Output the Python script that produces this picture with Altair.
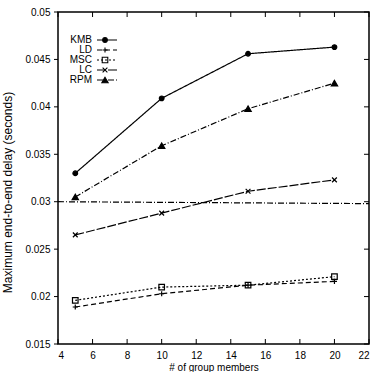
import altair as alt
import pandas as pd

# Group sizes and maximum end-to-end delay (seconds) for each algorithm
members = [5, 10, 15, 20]
kmb = [0.0330, 0.0409, 0.0456, 0.0463]
ld = [0.0189, 0.0203, 0.0212, 0.0216]
msc = [0.0196, 0.0210, 0.0212, 0.0221]
lc = [0.0265, 0.0288, 0.0311, 0.0323]
rpm = [0.0305, 0.0359, 0.0398, 0.0425]
series_names = ["KMB", "LD", "MSC", "LC", "RPM"]

# Delay bound drawn across the whole plot
bound_x = [4, 22]
bound_y = [0.0300, 0.0298]

# Axis ticks
x_ticks = [4, 6, 8, 10, 12, 14, 16, 18, 20, 22]
y_ticks = [0.015, 0.02, 0.025, 0.03, 0.035, 0.04, 0.045, 0.05]

W, H = 311, 332
FONT = "Liberation Sans"

rows = []
for name, vals in zip(series_names, [kmb, ld, msc, lc, rpm]):
    for m, v in zip(members, vals):
        rows.append({"series": name, "members": m, "delay": v})
df = pd.DataFrame(rows)
bound_df = pd.DataFrame({"members": bound_x, "delay": bound_y})
xt_df = pd.DataFrame({"members": x_ticks})
yt_df = pd.DataFrame({"delay": y_ticks})
leg_df = pd.DataFrame({"series": series_names})

xs = alt.Scale(domain=[4, 22], nice=False, zero=False)
ys = alt.Scale(domain=[0.015, 0.05], nice=False, zero=False)

x_axis = alt.Axis(values=x_ticks, format="d", domain=False, ticks=False, grid=False,
                  labelPadding=6, title="# of group members", titlePadding=2,
                  labelFont=FONT, titleFont=FONT, labelFontSize=10, titleFontSize=10,
                  titleFontWeight="normal", labelColor="black", titleColor="black")
y_axis = alt.Axis(values=y_ticks, domain=False, ticks=False, grid=False,
                  labelPadding=8, labelFont=FONT, labelFontSize=10, labelColor="black",
                  labelExpr="format(datum.value, '.3~f')",
                  title="Maximum end-to-end delay (seconds)", titleFont=FONT,
                  titleFontSize=12, titleFontWeight="normal", titleColor="black",
                  titleX=-51, titleY=180, titleBaseline="middle", titleAngle=-90)

X = alt.X("members:Q", scale=xs, axis=x_axis)
Y = alt.Y("delay:Q", scale=ys, axis=y_axis)

dash_scale = alt.Scale(
    domain=series_names,
    range=[[1, 0], [5, 3], [2, 2], [9, 2], [6, 2, 1, 2]],
)
plus_path = "M-1,0L1,0M0,-1L0,1"
x_path = "M-0.8,-0.8L0.8,0.8M-0.8,0.8L0.8,-0.8"
shape_scale = alt.Scale(
    domain=series_names,
    range=["circle", plus_path, "square", x_path, "triangle-up"],
)
fill_scale = alt.Scale(
    domain=series_names,
    range=["black", "transparent", "transparent", "transparent", "black"],
)
size_scale = alt.Scale(domain=series_names, range=[22, 40, 30, 36, 26])

lines = alt.Chart(df).mark_line(color="black", strokeWidth=1.2).encode(
    x=X, y=Y,
    strokeDash=alt.StrokeDash("series:N", scale=dash_scale, legend=None),
    detail="series:N",
)
points = alt.Chart(df).mark_point(color="black", strokeWidth=1.2, opacity=1).encode(
    x=X, y=Y,
    shape=alt.Shape("series:N", scale=shape_scale, legend=None),
    fill=alt.Fill("series:N", scale=fill_scale, legend=None),
    size=alt.Size("series:N", scale=size_scale, legend=None),
)
bound = alt.Chart(bound_df).mark_line(color="black", strokeWidth=1.2, strokeDash=[6, 2, 1, 2]).encode(
    x=X, y=Y,
)

tick_style = dict(color="black", strokeWidth=1)
ticks_bottom = alt.Chart(xt_df).mark_rule(**tick_style).encode(
    x=X, y=alt.value(H), y2=alt.value(H - 5))
ticks_top = alt.Chart(xt_df).mark_rule(**tick_style).encode(
    x=X, y=alt.value(0), y2=alt.value(5))
ticks_left = alt.Chart(yt_df).mark_rule(**tick_style).encode(
    y=Y, x=alt.value(-4), x2=alt.value(0))
ticks_right = alt.Chart(yt_df).mark_rule(**tick_style).encode(
    y=Y, x=alt.value(W - 5), x2=alt.value(W))

plot = alt.layer(lines, bound, points, ticks_bottom, ticks_top, ticks_left, ticks_right)

# Key in the upper-left corner: one row every 10 px
leg_y = alt.Y("series:N", sort=series_names,
              scale=alt.Scale(range=[23, 73]), axis=None)
leg_text = alt.Chart(leg_df).mark_text(
    align="right", baseline="middle", font=FONT, fontSize=10, color="black"
).encode(y=leg_y, x=alt.value(34), text="series:N")
leg_line = alt.Chart(leg_df).mark_rule(color="black", strokeWidth=1.1).encode(
    y=leg_y, x=alt.value(39), x2=alt.value(59),
    strokeDash=alt.StrokeDash("series:N", scale=dash_scale, legend=None),
)
leg_pts = alt.Chart(leg_df).mark_point(color="black", strokeWidth=1.1, opacity=1).encode(
    y=leg_y, x=alt.value(47),
    shape=alt.Shape("series:N", scale=shape_scale, legend=None),
    fill=alt.Fill("series:N", scale=fill_scale, legend=None),
    size=alt.Size("series:N", scale=size_scale, legend=None),
)
legend = alt.layer(leg_line, leg_pts, leg_text)

chart = alt.layer(plot, legend).resolve_scale(y="independent").properties(
    width=W, height=H,
    autosize=alt.AutoSizeParams(type="none"),
    padding={"left": 58, "top": 12, "right": 5, "bottom": 28},
    background="white",
).configure_view(stroke="black", strokeWidth=1.5)

chart.save("out.html", embed_options={"renderer": "svg", "actions": False})
